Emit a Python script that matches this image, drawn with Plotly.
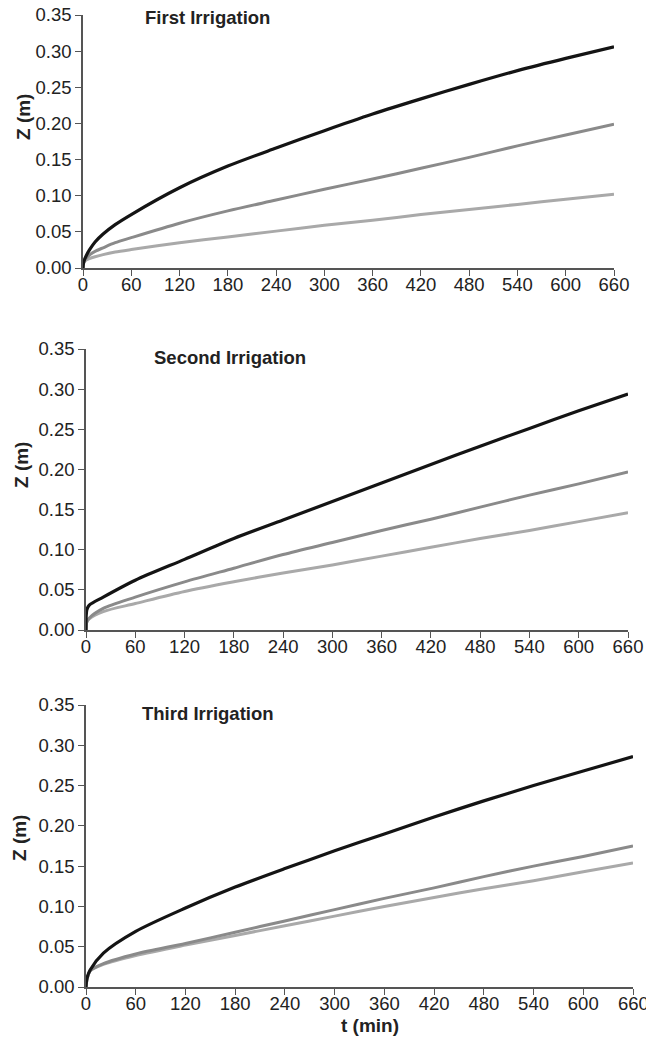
import plotly.graph_objects as go

W, H = 646, 1045

# ---- data ----
t1 = [0, 0.5, 2, 4, 8, 15, 25, 40, 60, 120, 180, 240, 300, 360, 420, 480, 540, 600, 660]
first_black = [0, 0.006, 0.012, 0.017, 0.025, 0.036, 0.047, 0.060, 0.074, 0.111, 0.141, 0.166, 0.190, 0.213, 0.234, 0.254, 0.273, 0.290, 0.306]
first_mid = [0, 0.006, 0.011, 0.014, 0.018, 0.023, 0.028, 0.035, 0.042, 0.062, 0.079, 0.094, 0.109, 0.123, 0.138, 0.153, 0.169, 0.184, 0.199]
first_light = [0, 0.006, 0.009, 0.011, 0.013, 0.0155, 0.0185, 0.022, 0.0255, 0.035, 0.043, 0.051, 0.059, 0.066, 0.074, 0.081, 0.088, 0.095, 0.102]

t2 = [0, 1, 4, 21, 60, 120, 180, 240, 300, 360, 420, 480, 540, 600, 660]
second_black = [0, 0.025, 0.031, 0.041, 0.062, 0.088, 0.114, 0.137, 0.160, 0.183, 0.206, 0.229, 0.251, 0.273, 0.294]
second_mid = [0, 0.010, 0.015, 0.027, 0.041, 0.060, 0.077, 0.094, 0.109, 0.124, 0.138, 0.153, 0.168, 0.182, 0.197]
second_light = [0, 0.010, 0.014, 0.023, 0.033, 0.048, 0.060, 0.071, 0.081, 0.092, 0.103, 0.114, 0.124, 0.135, 0.146]

t3 = [0, 1, 5, 21, 60, 120, 180, 240, 300, 360, 420, 480, 540, 600, 660]
third_black = [0, 0.010, 0.021, 0.042, 0.069, 0.098, 0.124, 0.147, 0.169, 0.190, 0.211, 0.231, 0.250, 0.268, 0.286]
third_mid = [0, 0.008, 0.020, 0.029, 0.041, 0.054, 0.068, 0.082, 0.096, 0.110, 0.123, 0.137, 0.150, 0.162, 0.175]
third_light = [0, 0.008, 0.020, 0.028, 0.039, 0.052, 0.064, 0.076, 0.088, 0.100, 0.111, 0.122, 0.132, 0.143, 0.154]

titles = ["First Irrigation", "Second Irrigation", "Third Irrigation"]
x_ticks = list(range(0, 661, 60))
y_ticks = [0, 0.05, 0.10, 0.15, 0.20, 0.25, 0.30, 0.35]

panels = [
    (t1, [first_black, first_mid, first_light]),
    (t2, [second_black, second_mid, second_light]),
    (t3, [third_black, third_mid, third_light]),
]

# pixel boxes of each plot area: (left, right, top, bottom)
boxes = [(83, 614, 15, 268), (86, 628, 349, 630), (86, 633, 705, 987)]
title_pos = [(143, 17), (152, 357), (140, 713)]
ytitle_pos = [(24, 117), (21, 465), (19, 838)]

colors = ["#141414", "#8a8a8a", "#a9a9a9"]
widths = [3.2, 3.0, 3.0]

fig = go.Figure()
FONT = "Liberation Sans, Arial, Helvetica, sans-serif"
TICKFONT = dict(size=18.5, color="#222", family=FONT)
for i, (t, series) in enumerate(panels):
    xa = "x" if i == 0 else f"x{i+1}"
    ya = "y" if i == 0 else f"y{i+1}"
    for s, c, w in zip(reversed(series), reversed(colors), reversed(widths)):
        fig.add_trace(go.Scatter(x=t, y=s, mode="lines", xaxis=xa, yaxis=ya,
                                 line=dict(color=c, width=w, shape="spline", smoothing=0.8),
                                 showlegend=False, hoverinfo="skip"))
    l, r, tp, b = boxes[i]
    xkey = "xaxis" if i == 0 else f"xaxis{i+1}"
    ykey = "yaxis" if i == 0 else f"yaxis{i+1}"
    fig.update_layout(**{
        xkey: dict(domain=[l / W, r / W], anchor=ya, range=[0, 660], automargin=False,
                   tickvals=x_ticks, ticks="outside", ticklen=6, tickwidth=1.3,
                   ticklabelstandoff=-7,
                   tickcolor="#555", showline=True, linecolor="#555", linewidth=1.5,
                   showgrid=False, zeroline=False, tickfont=TICKFONT),
        ykey: dict(domain=[1 - b / H, 1 - tp / H], anchor=xa, range=[0, 0.35],
                   automargin=False,
                   tickvals=y_ticks, tickformat=".2f", ticks="outside", ticklen=6,
                   tickwidth=1.3, tickcolor="#555", showline=True, linecolor="#555",
                   linewidth=1.5, showgrid=False, zeroline=False, tickfont=TICKFONT),
    })
    tx, ty = title_pos[i]
    fig.add_annotation(text=f"<b>{titles[i]}</b>", xref="paper", yref="paper",
                       x=tx / W, y=1 - ty / H, xanchor="left", yanchor="middle",
                       showarrow=False, font=dict(size=18.5, color="#222", family=FONT))
    yx, yy = ytitle_pos[i]
    fig.add_annotation(text="<b>Z (m)</b>", xref="paper", yref="paper",
                       x=yx / W, y=1 - yy / H, xanchor="center", yanchor="middle",
                       textangle=-90, showarrow=False,
                       font=dict(size=19, color="#222", family=FONT))

# last tick label of the bottom panel (runs past the page edge, plotly would drop it)
fig.add_annotation(text=str(x_ticks[-1]), xref="x3", x=x_ticks[-1], yref="paper",
                   y=1 - 1003 / H, xanchor="center", yanchor="middle",
                   showarrow=False, font=TICKFONT)

fig.add_annotation(text="<b>t (min)</b>", xref="paper", yref="paper",
                   x=370 / W, y=1 - 1025 / H, xanchor="center", yanchor="middle",
                   showarrow=False, font=dict(size=19, color="#222", family=FONT))

fig.update_layout(width=W, height=H, margin=dict(l=0, r=0, t=0, b=0, autoexpand=False),
                  paper_bgcolor="white", plot_bgcolor="white", autosize=False,
                  template="none")

fig.write_html("out.html")
